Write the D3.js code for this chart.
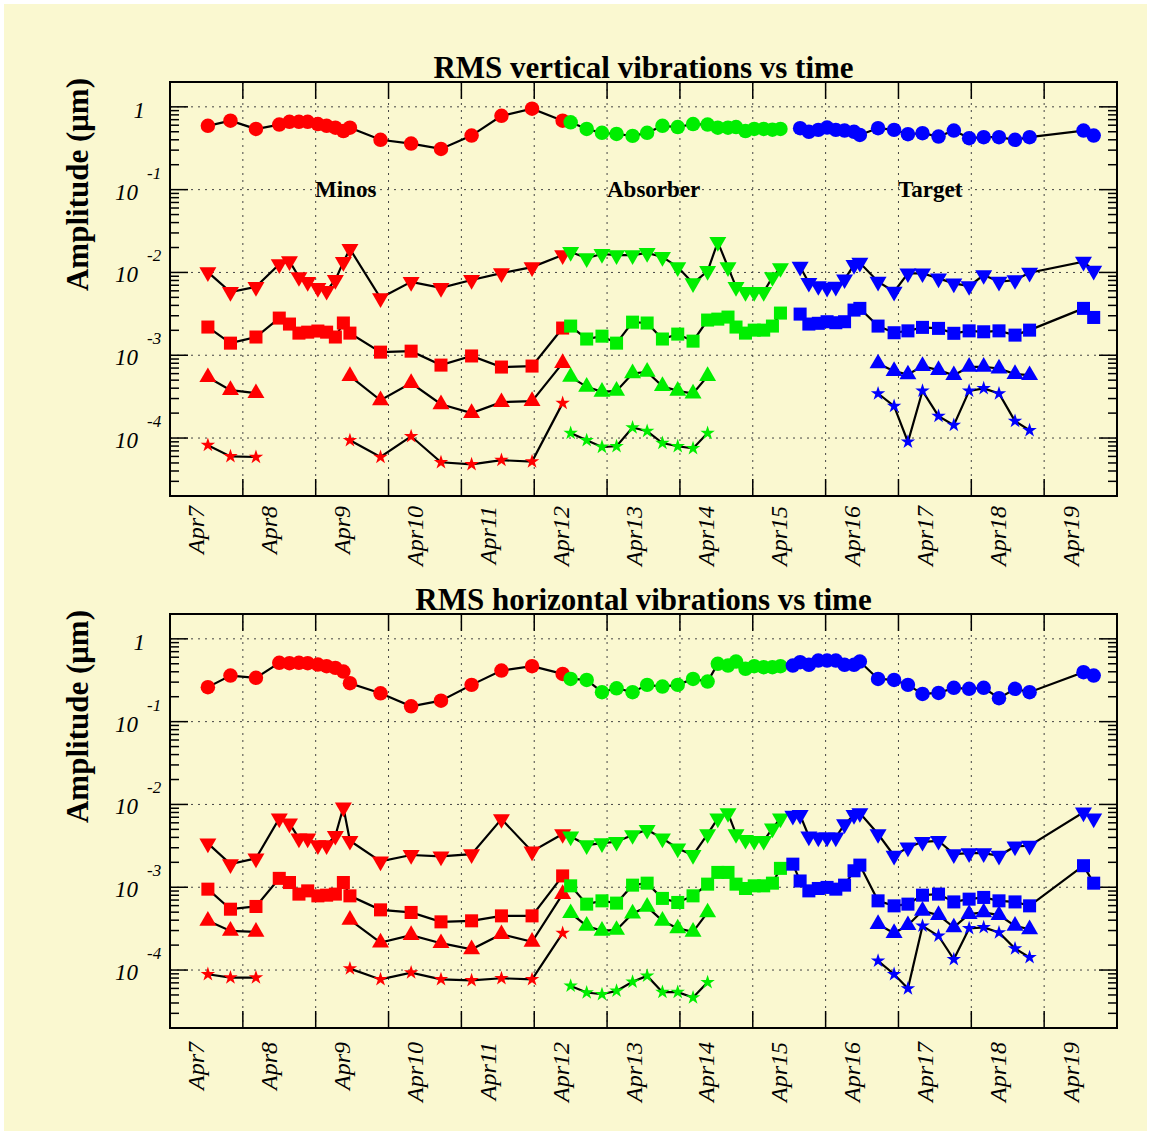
<!DOCTYPE html>
<html>
<head>
<meta charset="utf-8">
<script src="https://cdn.jsdelivr.net/npm/d3@7"></script>
<style>
  body { margin:0; background:#fff; }
  text { font-family: "Liberation Serif", "Times New Roman", serif; }
</style>
</head>
<body>
<script>
  // day labels, x is in days counted from the Apr7 label
  const dayLabels = ['Apr7','Apr8','Apr9','Apr10','Apr11','Apr12','Apr13','Apr14','Apr15','Apr16','Apr17','Apr18','Apr19'];

  const tRed = [0.02, 0.33, 0.68, 1.00, 1.14, 1.27, 1.39, 1.53, 1.65, 1.77, 1.88, 1.97, 2.39, 2.81, 3.22, 3.64, 4.05, 4.47, 4.89];
  const tGreen = [5.00, 5.22, 5.43, 5.63, 5.85, 6.05, 6.26, 6.47, 6.68, 6.88, 7.02, 7.16, 7.27, 7.40, 7.52, 7.65, 7.77, 7.88];
  const tBlue = [8.05, 8.15, 8.27, 8.40, 8.52, 8.64, 8.76, 8.89, 8.97, 9.22, 9.44, 9.63, 9.83, 10.05, 10.26, 10.47, 10.67, 10.88, 11.10, 11.30, 12.04, 12.18];

  const regions = ['Minos', 'Absorber', 'Target'];

  // vertical vibrations (um)
  const vCircRed = [0.59, 0.68, 0.54, 0.61, 0.66, 0.66, 0.66, 0.62, 0.59, 0.56, 0.51, 0.56, 0.40, 0.36, 0.31, 0.45, 0.78, 0.95, 0.68];
  const vDownRed = [0.0101, 0.0058, 0.0067, 0.0126, 0.0137, 0.0088, 0.0077, 0.0065, 0.0060, 0.0081, 0.0134, 0.0192, 0.0049, 0.0077, 0.0065, 0.0081, 0.0098, 0.0116, 0.0162];
  const vSqRed = [0.00219, 0.00140, 0.00166, 0.00281, 0.00238, 0.00185, 0.00190, 0.00196, 0.00190, 0.00166, 0.00245, 0.00185, 0.00109, 0.00112, 0.00076, 0.00098, 0.00072, 0.00074, 0.00213];
  const vUpRed = [0.000543, 0.000379, 0.000348, null, null, null, null, null, null, null, null, 0.000559, 0.000286, 0.000460, 0.000256, 0.000200, 0.000271, 0.000279, 0.000803];
  const vStarRed = [8.2e-5, 6.0e-5, 5.9e-5, null, null, null, null, null, null, null, null, 9.4e-5, 5.9e-5, 1.05e-4, 5.1e-5, 4.8e-5, 5.4e-5, 5.2e-5, 2.64e-4];

  const vCircGreen = [0.65, 0.54, 0.485, 0.47, 0.446, 0.485, 0.59, 0.57, 0.62, 0.61, 0.56, 0.56, 0.57, 0.51, 0.54, 0.54, 0.53, 0.54];
  const vDownGreen = [0.0177, 0.0149, 0.0167, 0.0162, 0.0162, 0.0172, 0.0154, 0.0116, 0.0074, 0.0104, 0.0233, 0.0116, 0.0067, 0.0058, 0.0058, 0.0058, 0.0088, 0.0113];
  const vSqGreen = [0.00225, 0.00157, 0.00170, 0.00140, 0.00251, 0.00245, 0.00157, 0.00180, 0.00148, 0.00266, 0.00273, 0.00289, 0.00219, 0.00185, 0.00201, 0.00201, 0.00225, 0.00323];
  const vUpGreen = [0.000548, 0.000415, 0.000361, 0.000371, 0.000603, 0.000630, 0.000423, 0.000371, 0.000345, 0.000559, null, null, null, null, null, null, null, null];
  const vStarGreen = [1.15e-4, 9.4e-5, 7.8e-5, 7.96e-5, 1.34e-4, 1.21e-4, 8.7e-5, 7.96e-5, 7.5e-5, 1.15e-4, null, null, null, null, null, null, null, null];

  const vCircBlue = [null, 0.552, 0.50, 0.527, 0.562, 0.527, 0.517, 0.50, 0.458, 0.552, 0.527, 0.468, 0.481, 0.438, 0.517, 0.418, 0.43, 0.43, 0.40, 0.43, 0.517, 0.45];
  const vDownBlue = [null, 0.01172, 0.00750, 0.00685, 0.00653, 0.00672, 0.00826, 0.0123, 0.0131, 0.00772, 0.00585, 0.00976, 0.00976, 0.00849, 0.00738, 0.00685, 0.00930, 0.00772, 0.00809, 0.00991, 0.01346, 0.0105];
  const vSqBlue = [null, 0.00314, 0.00238, 0.00243, 0.00254, 0.00247, 0.00254, 0.00351, 0.00368, 0.00225, 0.00187, 0.00197, 0.00217, 0.00211, 0.00184, 0.00197, 0.00192, 0.00197, 0.00175, 0.00201, 0.00368, 0.00286];
  const vUpBlue = [null, null, null, null, null, null, null, null, null, 0.000796, 0.000643, 0.000586, 0.000738, 0.000661, 0.000574, 0.000724, 0.000724, 0.000692, 0.000591, 0.000574, null, null];
  const vStarBlue = [null, null, null, null, null, null, null, null, null, 0.000345, 0.000243, 8.97e-5, 0.000371, 0.000184, 0.000143, 0.000371, 0.000397, 0.000345, 0.000160, 0.000124, null, null];

  // horizontal vibrations (um)
  const hCircRed = [0.261, 0.360, 0.338, 0.513, 0.508, 0.513, 0.508, 0.489, 0.467, 0.446, 0.403, 0.291, 0.220, 0.153, 0.179, 0.278, 0.414, 0.467, 0.377];
  const hDownRed = [0.00339, 0.00190, 0.00223, 0.00679, 0.00591, 0.00389, 0.00389, 0.00323, 0.00323, 0.00418, 0.00923, 0.00364, 0.00205, 0.00245, 0.00236, 0.00251, 0.00666, 0.00271, 0.00439];
  const hSqRed = [0.000948, 0.000543, 0.000586, 0.00128, 0.00114, 0.000826, 0.000904, 0.000787, 0.000802, 0.000826, 0.00114, 0.000787, 0.000533, 0.000496, 0.000382, 0.000393, 0.000451, 0.000451, 0.00137];
  const hUpRed = [0.000393, 0.000297, 0.000289, null, null, null, null, null, null, null, null, 0.000404, 0.000215, 0.000264, 0.000211, 0.000178, 0.000271, 0.000219, 0.000826];
  const hStarRed = [8.9e-5, 8.1e-5, 8.1e-5, null, null, null, null, null, null, null, null, 1.04e-4, 7.7e-5, 9.3e-5, 7.7e-5, 7.5e-5, 7.96e-5, 7.7e-5, 0.000279];

  const hCircGreen = [0.328, 0.319, 0.227, 0.253, 0.227, 0.278, 0.265, 0.278, 0.328, 0.305, 0.499, 0.475, 0.532, 0.434, 0.467, 0.455, 0.455, 0.467];
  const hDownGreen = [0.00411, 0.00323, 0.00341, 0.00354, 0.00427, 0.00494, 0.00389, 0.00294, 0.00245, 0.00439, 0.00679, 0.00787, 0.00439, 0.00374, 0.00364, 0.00364, 0.00514, 0.00679];
  const hSqGreen = [0.00104, 0.000625, 0.000685, 0.000643, 0.00106, 0.00112, 0.000733, 0.000655, 0.000787, 0.00109, 0.00151, 0.00151, 0.00109, 0.000966, 0.00104, 0.00104, 0.00112, 0.00169];
  const hUpGreen = [0.000486, 0.000341, 0.000297, 0.000305, 0.000482, 0.000579, 0.000393, 0.000318, 0.000289, 0.000496, null, null, null, null, null, null, null, null];
  const hStarGreen = [6.43e-5, 5.35e-5, 5.1e-5, 5.6e-5, 7.2e-5, 8.5e-5, 5.4e-5, 5.4e-5, 4.65e-5, 7.1e-5, null, null, null, null, null, null, null, null];

  const hCircBlue = [0.475, 0.523, 0.485, 0.547, 0.547, 0.547, 0.485, 0.485, 0.532, 0.328, 0.319, 0.278, 0.216, 0.222, 0.256, 0.249, 0.256, 0.192, 0.249, 0.227, 0.396, 0.360];
  const hDownBlue = [0.00730, 0.00745, 0.00411, 0.00400, 0.00400, 0.00400, 0.00579, 0.00745, 0.00787, 0.00439, 0.00240, 0.00303, 0.00354, 0.00364, 0.00251, 0.00258, 0.00258, 0.00240, 0.00311, 0.00317, 0.00802, 0.00679];
  const hSqBlue = [0.00190, 0.00119, 0.000904, 0.000966, 0.000995, 0.000948, 0.00106, 0.00158, 0.00185, 0.000685, 0.000596, 0.000625, 0.000802, 0.000826, 0.000665, 0.000718, 0.000753, 0.000685, 0.000665, 0.000596, 0.00182, 0.00112];
  const hUpBlue = [null, null, null, null, null, null, null, null, null, 0.000358, 0.000279, 0.000348, 0.000519, 0.000460, 0.000327, 0.000473, 0.000496, 0.000460, 0.000341, 0.000311, null, null];
  const hStarBlue = [null, null, null, null, null, null, null, null, null, 0.000129, 8.9e-5, 5.97e-5, 0.000341, 0.000258, 0.000135, 0.000318, 0.000327, 0.000284, 0.000182, 0.000142, null, null];

  const bg = '#faf8d0';

  const shapes = {
    circ: { type: d3.symbolCircle, size: 165, rot: 0 },
    down: { type: d3.symbolTriangle, size: 125, rot: 180 },
    sq:   { type: d3.symbolSquare, size: 170, rot: 0 },
    up:   { type: d3.symbolTriangle, size: 125, rot: 0 },
    star: { type: d3.symbolStar, size: 65, rot: 0 }
  };

  const mk = (t, v, color, shape) => ({ color, shape, pts: t.map((d, i) => ({ t: d, v: v[i] })) });

  const panels = [
    {
      title: 'RMS vertical vibrations vs time', top: 82, bottom: 496, labelGap: 10, regions: true,
      series: [
        mk(tRed, vCircRed, '#ff0000', 'circ'), mk(tRed, vDownRed, '#ff0000', 'down'), mk(tRed, vSqRed, '#ff0000', 'sq'),
        mk(tRed, vUpRed, '#ff0000', 'up'), mk(tRed, vStarRed, '#ff0000', 'star'),
        mk(tGreen, vCircGreen, '#00ee00', 'circ'), mk(tGreen, vDownGreen, '#00ee00', 'down'), mk(tGreen, vSqGreen, '#00ee00', 'sq'),
        mk(tGreen, vUpGreen, '#00ee00', 'up'), mk(tGreen, vStarGreen, '#00ee00', 'star'),
        mk(tBlue, vCircBlue, '#0000ff', 'circ'), mk(tBlue, vDownBlue, '#0000ff', 'down'), mk(tBlue, vSqBlue, '#0000ff', 'sq'),
        mk(tBlue, vUpBlue, '#0000ff', 'up'), mk(tBlue, vStarBlue, '#0000ff', 'star')
      ]
    },
    {
      title: 'RMS horizontal vibrations vs time', top: 614, bottom: 1028, labelGap: 14, regions: false,
      series: [
        mk(tRed, hCircRed, '#ff0000', 'circ'), mk(tRed, hDownRed, '#ff0000', 'down'), mk(tRed, hSqRed, '#ff0000', 'sq'),
        mk(tRed, hUpRed, '#ff0000', 'up'), mk(tRed, hStarRed, '#ff0000', 'star'),
        mk(tGreen, hCircGreen, '#00ee00', 'circ'), mk(tGreen, hDownGreen, '#00ee00', 'down'), mk(tGreen, hSqGreen, '#00ee00', 'sq'),
        mk(tGreen, hUpGreen, '#00ee00', 'up'), mk(tGreen, hStarGreen, '#00ee00', 'star'),
        mk(tBlue, hCircBlue, '#0000ff', 'circ'), mk(tBlue, hDownBlue, '#0000ff', 'down'), mk(tBlue, hSqBlue, '#0000ff', 'sq'),
        mk(tBlue, hUpBlue, '#0000ff', 'up'), mk(tBlue, hStarBlue, '#0000ff', 'star')
      ]
    }
  ];

  const svg = d3.select('body').append('svg')
    .attr('width', 1151)
    .attr('height', 1135);

  svg.append('rect')
    .attr('x', 4).attr('y', 4)
    .attr('width', 1143).attr('height', 1127)
    .style('fill', bg);

  const left = 170, right = 1117;
  const x = d3.scaleLinear().domain([-0.5, 12.5]).range([left, right]);

  const decades = [1e-4, 1e-3, 1e-2, 1e-1, 1];
  const gridX = d3.range(0.5, 12, 1);

  panels.forEach(p => {
    const y = d3.scaleLog()
      .domain([Math.pow(10, -4.7), Math.pow(10, 0.3)])
      .range([p.bottom, p.top]);

    const g = svg.append('g');

    // dotted grid
    g.selectAll('.gx').data(gridX).enter().append('line')
      .attr('x1', d => x(d)).attr('x2', d => x(d))
      .attr('y1', p.top).attr('y2', p.bottom)
      .style('stroke', '#444').style('stroke-width', 1).style('stroke-dasharray', '2,5');
    g.selectAll('.gy').data(decades).enter().append('line')
      .attr('x1', left).attr('x2', right)
      .attr('y1', d => y(d)).attr('y2', d => y(d))
      .style('stroke', '#444').style('stroke-width', 1).style('stroke-dasharray', '2,5');

    // x ticks top and bottom
    gridX.forEach(d => {
      g.append('line').attr('x1', x(d)).attr('x2', x(d)).attr('y1', p.bottom).attr('y2', p.bottom - 17)
        .style('stroke', '#000').style('stroke-width', 1.5);
      g.append('line').attr('x1', x(d)).attr('x2', x(d)).attr('y1', p.top).attr('y2', p.top + 17)
        .style('stroke', '#000').style('stroke-width', 1.5);
    });

    // log ticks left and right
    const minor = [];
    d3.range(-5, 1).forEach(e => d3.range(2, 10).forEach(m => {
      const v = m * Math.pow(10, e);
      if (v > y.domain()[0] && v < y.domain()[1]) minor.push(v);
    }));
    const ticks = decades.map(v => ({ v, len: 18 })).concat(minor.map(v => ({ v, len: 9 })));
    ticks.forEach(tk => {
      g.append('line').attr('x1', left).attr('x2', left + tk.len).attr('y1', y(tk.v)).attr('y2', y(tk.v))
        .style('stroke', '#000').style('stroke-width', 1.5);
      g.append('line').attr('x1', right).attr('x2', right - tk.len).attr('y1', y(tk.v)).attr('y2', y(tk.v))
        .style('stroke', '#000').style('stroke-width', 1.5);
    });

    // frame
    g.append('rect')
      .attr('x', left).attr('y', p.top)
      .attr('width', right - left).attr('height', p.bottom - p.top)
      .style('fill', 'none').style('stroke', '#000').style('stroke-width', 2);

    // y tick labels
    decades.forEach(v => {
      const e = Math.round(Math.log10(v));
      if (e === 0) {
        g.append('text').text('1')
          .attr('x', 145).attr('y', y(v) + 11)
          .attr('text-anchor', 'end')
          .style('font-style', 'italic').style('font-size', '23px');
      } else {
        g.append('text').text('10')
          .attr('x', 138).attr('y', y(v) + 10)
          .attr('text-anchor', 'end')
          .style('font-style', 'italic').style('font-size', '23px');
        g.append('text').text(e)
          .attr('x', 147).attr('y', y(v) - 11)
          .style('font-style', 'italic').style('font-size', '17px');
      }
    });

    // x tick labels
    dayLabels.forEach((lab, i) => {
      g.append('text').text(lab)
        .attr('transform', `translate(${x(i) - 2}, ${p.bottom + p.labelGap}) rotate(-90)`)
        .attr('text-anchor', 'end')
        .style('font-style', 'italic').style('font-size', '24px');
    });

    // titles
    g.append('text').text(p.title)
      .attr('x', (left + right) / 2).attr('y', p.top - 4)
      .attr('text-anchor', 'middle')
      .style('font-weight', 'bold').style('font-size', '31px');

    g.append('text').text('Amplitude (\u03bcm)')
      .attr('transform', `translate(88, ${p.top - 4}) rotate(-90)`)
      .attr('text-anchor', 'end')
      .style('font-weight', 'bold').style('font-size', '31px');

    if (p.regions) {
      const rx = [315, 607, 898];
      regions.forEach((r, i) => {
        g.append('text').text(r)
          .attr('x', rx[i]).attr('y', y(0.1) + 7)
          .style('font-weight', 'bold').style('font-size', '23px');
      });
    }

    // series
    const line = d3.line()
      .defined(d => d.v != null)
      .x(d => x(d.t))
      .y(d => y(d.v));

    p.series.forEach(s => {
      g.append('path')
        .datum(s.pts)
        .attr('d', line)
        .style('fill', 'none').style('stroke', '#000').style('stroke-width', 2.2);

      const sh = shapes[s.shape];
      g.selectAll(null)
        .data(s.pts.filter(d => d.v != null))
        .enter().append('path')
        .attr('d', d3.symbol().type(sh.type).size(sh.size))
        .attr('transform', d => `translate(${x(d.t)}, ${y(d.v)}) rotate(${sh.rot})`)
        .style('fill', s.color);
    });
  });
</script>
</body>
</html>
